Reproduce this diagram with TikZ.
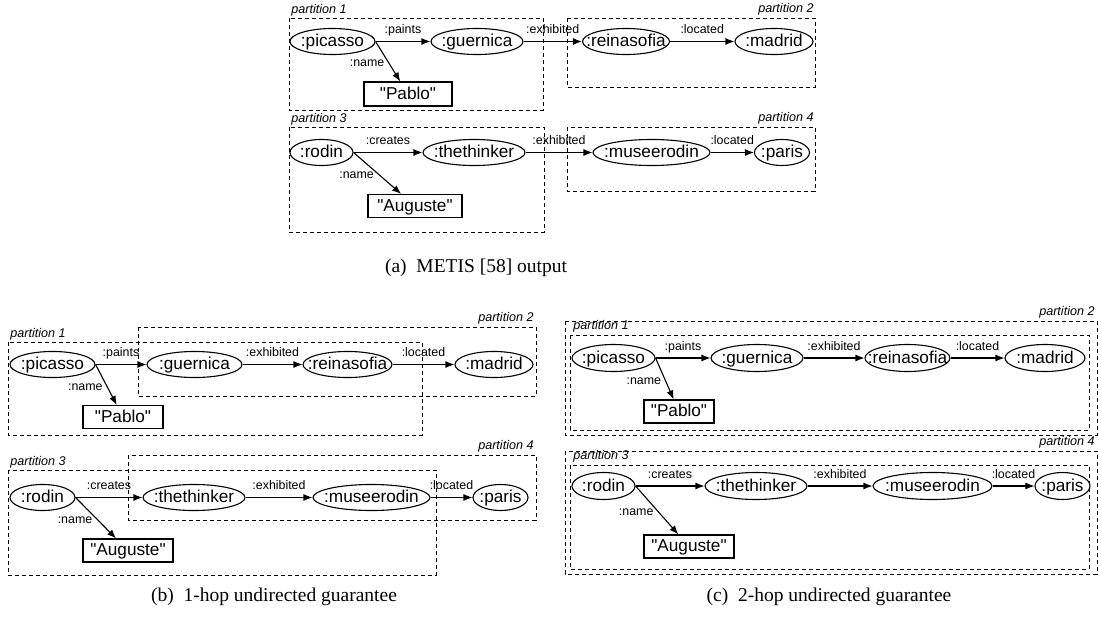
\documentclass[tikz,border=0pt]{standalone}
\usepackage{fontspec}
\setmainfont{Liberation Serif}
\newfontfamily\hv{Liberation Sans}
\usetikzlibrary{shapes.geometric,arrows.meta}

\newcommand{\nodefont}{\hv\fontsize{8.6pt}{10pt}\selectfont}
\newcommand{\edgefont}{\hv\fontsize{6.2pt}{7pt}\selectfont}
\newcommand{\partfont}{\hv\itshape\fontsize{6.3pt}{7pt}\selectfont}
\newcommand{\capfont}{\fontsize{9.75pt}{11pt}\selectfont}

\begin{document}
\begin{tikzpicture}[x=0.5pt, y=-0.5pt]
\tikzset{
  res/.style={ellipse, draw, line width=0.55pt, inner xsep=-8pt, inner ysep=0pt, minimum height=12.5pt, text height=0.72em, text depth=0.2em, font=\nodefont},
  resc/.style={res, minimum height=13.5pt},
  lit/.style={rectangle, draw, line width=0.55pt, inner xsep=0pt, inner ysep=0pt, minimum height=11.5pt, text height=0.72em, text depth=0.2em, font=\nodefont},
  pbox/.style={draw, line width=0.5pt, dash pattern=on 2pt off 1.5pt},
  plabel/.style={font=\partfont, inner sep=0.5pt},
  elabel/.style={font=\edgefont, inner sep=0.5pt, text height=0.7em, text depth=0.15em},
  rel/.style={line width=0.55pt, -{Latex[length=4.5pt,width=3.5pt]}},
  subcap/.style={font=\capfont, inner sep=0pt}
}
\useasboundingbox (0,0) rectangle (1099,621);

% (a) METIS
\draw[pbox] (289,18) rectangle (543,110);
\draw[pbox] (567,18) rectangle (815,87);
\draw[pbox] (289,127) rectangle (544,232);
\draw[pbox] (567,127) rectangle (815,191);
\node[plabel, anchor=south west] (a-p1) at (290,17.5) {partition 1};
\node[plabel, anchor=south east] (a-p2) at (815,16.5) {partition 2};
\node[plabel, anchor=south west] (a-p3) at (290,127) {partition 3};
\node[plabel, anchor=south east] (a-p4) at (815,126) {partition 4};
\node[res, minimum width=42.5pt] (a-picasso) at (332.5,41.5) {:picasso};
\node[res, minimum width=46pt] (a-guernica) at (477,41.5) {:guernica};
\node[res, minimum width=43.5pt] (a-reinasofia) at (626,41.5) {:reinasofia};
\node[res, minimum width=39pt] (a-madrid) at (774,41.5) {:madrid};
\node[lit, minimum width=44pt, minimum height=12pt] (a-pablo) at (408,94) {"Pablo"};
\node[res, minimum width=31.5pt] (a-rodin) at (321.5,152.5) {:rodin};
\node[res, minimum width=51pt] (a-thethinker) at (474,152.5) {:thethinker};
\node[res, minimum width=58.5pt] (a-museerodin) at (651.5,152.5) {:museerodin};
\node[res, minimum width=27.5pt] (a-paris) at (782,152.5) {:paris};
\node[lit, minimum width=47pt] (a-auguste) at (415,206) {"Auguste"};
\node[subcap] (a-cap) at (476,268) {(a)\enskip METIS [58] output};

% (b) 1-hop
\draw[pbox] (8,342) rectangle (422,435);
\draw[pbox] (138,327) rectangle (536,396);
\draw[pbox] (8,470) rectangle (436,575);
\draw[pbox] (128,455) rectangle (536,520);
\node[plabel, anchor=south west] (b-p1) at (9,342) {partition 1};
\node[plabel, anchor=south east] (b-p2) at (535,326) {partition 2};
\node[plabel, anchor=south west] (b-p3) at (9,470) {partition 3};
\node[plabel, anchor=south east] (b-p4) at (535,454) {partition 4};
\node[res, minimum width=42.5pt] (b-picasso) at (52.5,364.5) {:picasso};
\node[res, minimum width=47.5pt] (b-guernica) at (194.5,364.5) {:guernica};
\node[res, minimum width=44.5pt] (b-reinasofia) at (347.5,364.5) {:reinasofia};
\node[res, minimum width=39pt] (b-madrid) at (494,364.5) {:madrid};
\node[lit, minimum width=40pt] (b-pablo) at (123,417) {"Pablo"};
\node[res, minimum width=32.5pt] (b-rodin) at (42.5,497.5) {:rodin};
\node[res, minimum width=51pt] (b-thethinker) at (194,497.5) {:thethinker};
\node[res, minimum width=58.5pt] (b-museerodin) at (371.5,497.5) {:museerodin};
\node[res, minimum width=27.5pt] (b-paris) at (500.5,497.5) {:paris};
\node[lit, minimum width=45pt] (b-auguste) at (128,550.5) {"Auguste"};
\node[subcap] (b-cap) at (274,597) {(b)\enskip 1-hop undirected guarantee};

% (c) 2-hop
\draw[pbox] (565,321) rectangle (1097,435);
\draw[pbox] (570,335) rectangle (1089,430);
\draw[pbox] (565,451) rectangle (1097,574);
\draw[pbox] (570,465) rectangle (1089,569);
\node[plabel, anchor=south west] (c-p1) at (572,334) {partition 1};
\node[plabel, anchor=south east] (c-p2) at (1096,320) {partition 2};
\node[plabel, anchor=south west] (c-p3) at (572,464) {partition 3};
\node[plabel, anchor=south east] (c-p4) at (1096,450) {partition 4};
\node[resc, minimum width=41.5pt] (c-picasso) at (613.5,358) {:picasso};
\node[resc, minimum width=46pt] (c-guernica) at (757,358) {:guernica};
\node[resc, minimum width=42.5pt] (c-reinasofia) at (907.5,358) {:reinasofia};
\node[resc, minimum width=40pt] (c-madrid) at (1045,358) {:madrid};
\node[lit, minimum width=35pt] (c-pablo) at (679,411.5) {"Pablo"};
\node[resc, minimum width=31.5pt] (c-rodin) at (603.5,486) {:rodin};
\node[resc, minimum width=51pt] (c-thethinker) at (756,486) {:thethinker};
\node[resc, minimum width=59.5pt] (c-museerodin) at (932.5,486) {:museerodin};
\node[resc, minimum width=27.5pt] (c-paris) at (1062.5,486) {:paris};
\node[lit, minimum width=45pt] (c-auguste) at (689,546.5) {"Auguste"};
\node[subcap] (c-cap) at (829,597) {(c)\enskip 2-hop undirected guarantee};

\foreach \p in {a,b,c} {
  \draw[rel] (\p-picasso) -- node[elabel, above=1.5pt] {:paints} (\p-guernica);
  \draw[rel] (\p-guernica) -- node[elabel, above=1.5pt] {:exhibited} (\p-reinasofia);
  \draw[rel] (\p-reinasofia) -- node[elabel, above=1.5pt] {:located} (\p-madrid);
  \draw[rel] (\p-picasso.east) -- node[elabel, left=1pt] {:name} (\p-pablo);
  \draw[rel] (\p-rodin) -- node[elabel, above=1.5pt] {:creates} (\p-thethinker);
  \draw[rel] (\p-thethinker) -- node[elabel, above=1.5pt] {:exhibited} (\p-museerodin);
  \draw[rel] (\p-museerodin) -- node[elabel, above=1.5pt] {:located} (\p-paris);
  \draw[rel] (\p-rodin.east) -- node[elabel, left=1pt] {:name} (\p-auguste);
}
\end{tikzpicture}
\end{document}
